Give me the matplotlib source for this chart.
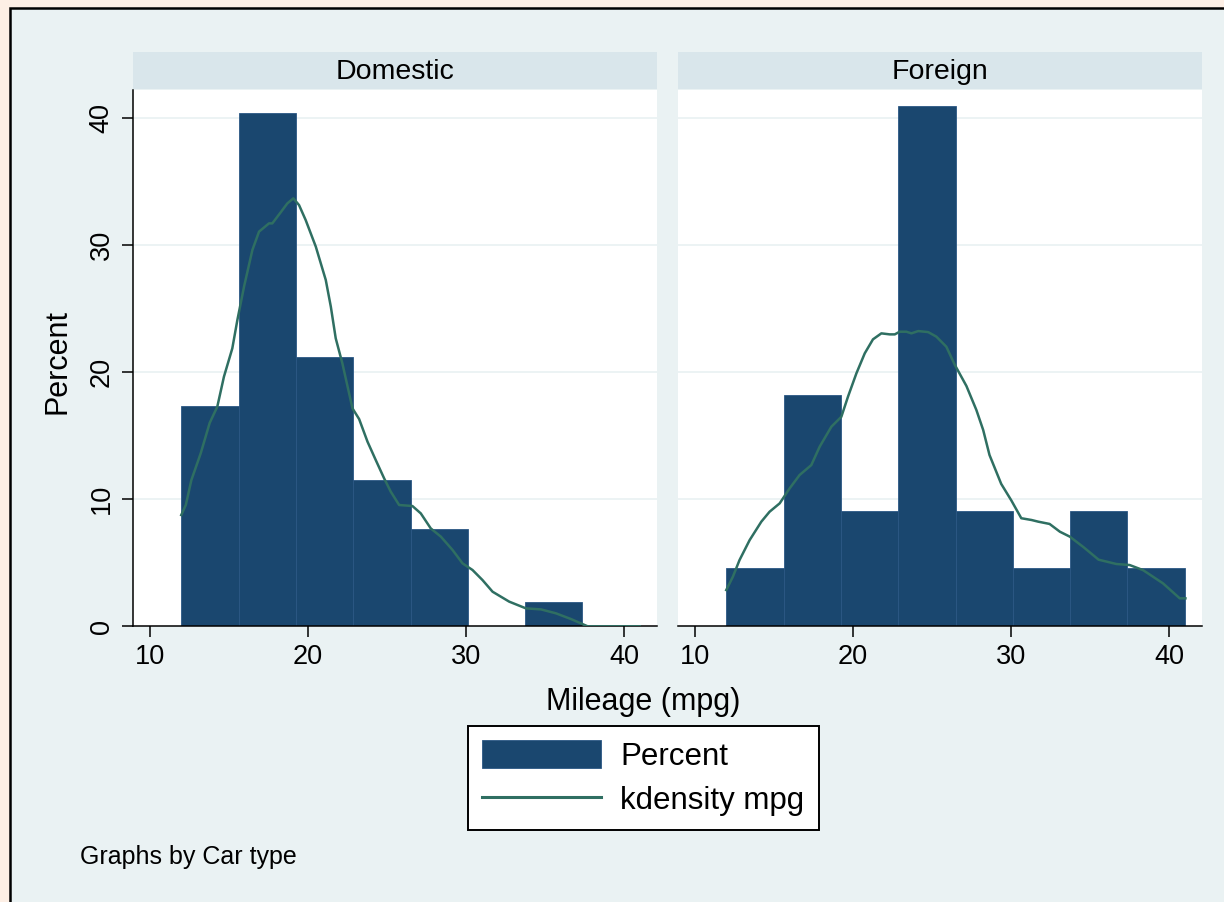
import matplotlib
matplotlib.use("Agg")
import matplotlib.pyplot as plt
from matplotlib.patches import Rectangle, Patch
from matplotlib.lines import Line2D

plt.rcParams["font.family"] = ["Liberation Sans", "DejaVu Sans"]

# mpg histogram bins (8 bins from 12 to 41)
bin_edges = [12.0, 15.625, 19.25, 22.875, 26.5, 30.125, 33.75, 37.375, 41.0]
panels = ["Domestic", "Foreign"]
pct_domestic = [17.31, 40.38, 21.15, 11.54, 7.69, 0.0, 1.92, 0.0]
pct_foreign = [4.55, 18.18, 9.09, 40.91, 9.09, 4.55, 9.09, 4.55]

# kernel density curves (rescaled to percent)
kd_dom_x = [12.0, 12.29, 12.64, 13.23, 13.8, 14.28, 14.7, 15.23, 15.55, 15.97,
            16.5, 16.92, 17.55, 17.76, 18.29, 18.71, 19.09, 19.45, 19.87, 20.51,
            21.14, 21.46, 21.77, 22.19, 22.83, 23.25, 23.78, 24.3, 24.83, 25.25,
            25.78, 26.62, 27.15, 27.78, 28.42, 29.16, 29.79, 30.42, 31.05, 31.69,
            32.74, 33.8, 34.75, 35.7, 36.65, 37.7, 41.0]
kd_dom_y = [8.75, 9.54, 11.5, 13.6, 16.0, 17.27, 19.63, 21.86, 24.09, 26.71,
            29.6, 31.04, 31.69, 31.69, 32.56, 33.26, 33.66, 33.13, 31.95, 29.86,
            27.24, 25.14, 22.65, 20.68, 17.14, 16.3, 14.52, 13.08, 11.64, 10.59,
            9.54, 9.46, 8.88, 7.7, 7.05, 6.0, 4.95, 4.43, 3.64, 2.72,
            1.94, 1.41, 1.33, 1.02, 0.57, 0.0, 0.0]

kd_for_x = [12.0, 12.42, 12.84, 13.48, 14.22, 14.74, 15.38, 16.01, 16.64, 17.38,
            17.91, 18.65, 19.28, 19.7, 20.23, 20.76, 21.28, 21.81, 22.34, 22.66,
            22.97, 23.39, 23.71, 24.14, 24.77, 25.29, 25.92, 26.44, 27.19, 27.82,
            28.25, 28.65, 29.39, 30.03, 30.66, 31.31, 31.73, 32.45, 33.1, 33.73,
            34.62, 35.55, 36.67, 37.51, 38.36, 39.62, 40.68, 41.04]
kd_for_y = [2.85, 3.9, 5.21, 6.78, 8.23, 9.01, 9.67, 10.85, 11.9, 12.68,
            14.13, 15.7, 16.48, 18.06, 19.89, 21.47, 22.57, 23.04, 22.96, 22.96,
            23.17, 23.17, 23.04, 23.22, 23.14, 22.78, 21.99, 20.6, 18.9, 17.01,
            15.44, 13.47, 11.2, 9.9, 8.5, 8.36, 8.23, 8.05, 7.44, 7.05,
            6.2, 5.24, 4.9, 4.82, 4.42, 3.38, 2.2, 2.2]

x_ticks = [10, 20, 30, 40]
y_ticks = [0, 10, 20, 30, 40]

BAR = "#1a476f"
LINE = "#2f6f62"
BG = "#eaf2f3"
STRIP = "#d9e6eb"

W, H = 1224, 902


def fx(px):
    return px / W


def fy(py):
    return 1 - py / H


fig = plt.figure(figsize=(W / 100, H / 100), dpi=100, facecolor="#fdefe5")

# graph region with its black frame
fig.patches.append(Rectangle((fx(9.5), -0.05), 1.1, fy(7.5) + 0.05,
                             transform=fig.transFigure, facecolor=BG,
                             edgecolor="black", linewidth=1.8, zorder=-2))

series = [(pct_domestic, kd_dom_x, kd_dom_y), (pct_foreign, kd_for_x, kd_for_y)]
lefts = [132.7, 677.7]
top, bottom, width = 90.0, 626.3, 524.0

for i, (name, (pct, kx, ky)) in enumerate(zip(panels, series)):
    left = lefts[i]
    ax = fig.add_axes([fx(left), fy(bottom), width / W, (bottom - top) / H])
    ax.set_facecolor("white")
    widths = [b - a for a, b in zip(bin_edges[:-1], bin_edges[1:])]
    ax.bar(bin_edges[:-1], pct, width=widths, align="edge", color=BAR,
           edgecolor="#2b5784", linewidth=0.6, zorder=2)
    ax.plot(kx, ky, color=LINE, linewidth=1.8, zorder=3)

    ax.set_xlim(8.93, 42.07)
    ax.set_ylim(0, 42.18)
    ax.set_xticks(x_ticks)
    ax.set_yticks(y_ticks)
    for g in y_ticks[1:]:
        ax.axhline(g, color=BG, linewidth=1.3, zorder=1)

    for s in ["top", "right"]:
        ax.spines[s].set_visible(False)
    ax.spines["bottom"].set_linewidth(1.1)
    ax.spines["left"].set_linewidth(1.1)
    ax.tick_params(axis="both", direction="out", length=8, width=1.1,
                   labelsize=19.5, pad=5)
    if i == 0:
        ax.set_yticklabels([str(t) for t in y_ticks], rotation=90, va="center")
    else:
        ax.spines["left"].set_visible(False)
        ax.tick_params(axis="y", left=False, labelleft=False)

    # panel header strip
    fig.patches.append(Rectangle((fx(left), fy(89.3)), width / W, 37.6 / H,
                                 transform=fig.transFigure, facecolor=STRIP,
                                 edgecolor="none", zorder=-1))
    fig.text(fx(left + width / 2), fy(72), name, ha="center", va="center",
             fontsize=20.5)

fig.text(fx(57), fy(362), "Percent", rotation=90, ha="center", va="center",
         fontsize=22)
fig.text(fx(643.5), fy(702), "Mileage (mpg)", ha="center", va="center",
         fontsize=22)
fig.text(fx(80), fy(857), "Graphs by Car type", ha="left", va="center",
         fontsize=18)

handles = [Patch(facecolor=BAR, edgecolor="#2b5784", linewidth=0.6),
           Line2D([0], [0], color=LINE, linewidth=2.2)]
leg = fig.legend(handles, ["Percent", "kdensity mpg"], loc="center",
                 bbox_to_anchor=(fx(643.5), fy(778)), fontsize=22.5,
                 frameon=True, fancybox=False, edgecolor="black",
                 facecolor="white", framealpha=1,
                 handlelength=3.8, handleheight=1.0, handletextpad=0.62,
                 labelspacing=0.4, borderpad=0.45, borderaxespad=0)
leg.get_frame().set_linewidth(1.4)

fig.savefig("out.png", dpi=100, facecolor=fig.get_facecolor())
